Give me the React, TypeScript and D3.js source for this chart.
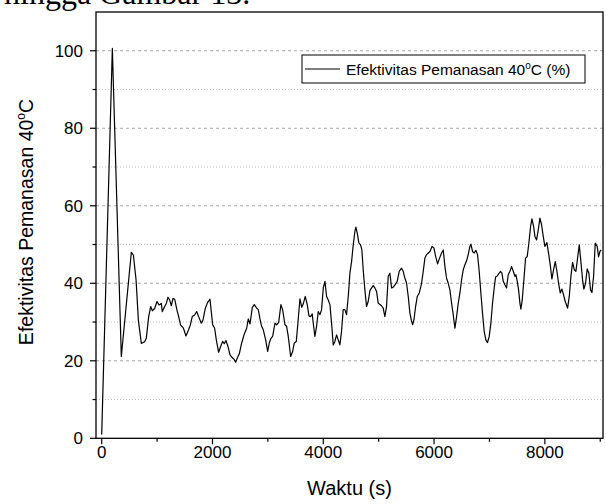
import React from "react";
import * as d3 from "d3";

const timeS = [0, 192, 354, 535, 572, 620, 662, 715, 775, 805, 848, 884, 914, 956, 998, 1034, 1076, 1094, 1136, 1166, 1197, 1227, 1257, 1287, 1317, 1359, 1389, 1425, 1467, 1485, 1521, 1569, 1599, 1635, 1677, 1714, 1750, 1798, 1828, 1870, 1910, 1955, 2003, 2039, 2069, 2111, 2147, 2183, 2213, 2243, 2280, 2316, 2352, 2388, 2418, 2448, 2484, 2527, 2569, 2617, 2647, 2677, 2719, 2755, 2797, 2827, 2857, 2887, 2917, 2960, 2996, 3026, 3056, 3086, 3128, 3158, 3194, 3236, 3266, 3308, 3338, 3368, 3411, 3447, 3477, 3513, 3537, 3579, 3612, 3639, 3675, 3711, 3741, 3771, 3801, 3819, 3849, 3879, 3909, 3940, 3970, 4000, 4030, 4060, 4090, 4120, 4150, 4180, 4210, 4240, 4270, 4300, 4330, 4360, 4390, 4420, 4451, 4481, 4511, 4541, 4571, 4589, 4613, 4643, 4673, 4697, 4721, 4751, 4781, 4811, 4842, 4872, 4902, 4932, 4962, 4992, 5022, 5052, 5082, 5112, 5142, 5173, 5203, 5233, 5263, 5293, 5335, 5371, 5413, 5443, 5470, 5504, 5534, 5564, 5594, 5613, 5637, 5667, 5697, 5733, 5775, 5805, 5835, 5865, 5896, 5926, 5962, 5998, 6028, 6064, 6094, 6136, 6166, 6196, 6226, 6256, 6286, 6316, 6346, 6377, 6407, 6437, 6467, 6497, 6527, 6557, 6587, 6617, 6647, 6665, 6695, 6725, 6755, 6785, 6815, 6845, 6875, 6905, 6935, 6965, 6996, 7026, 7056, 7086, 7110, 7140, 7170, 7200, 7225, 7249, 7279, 7309, 7339, 7370, 7400, 7430, 7460, 7478, 7502, 7526, 7550, 7568, 7592, 7622, 7652, 7682, 7712, 7743, 7767, 7797, 7821, 7851, 7881, 7911, 7941, 7971, 8001, 8037, 8067, 8097, 8127, 8158, 8188, 8218, 8248, 8278, 8308, 8338, 8368, 8411, 8441, 8471, 8501, 8531, 8561, 8591, 8621, 8651, 8681, 8705, 8735, 8765, 8795, 8825, 8850, 8880, 8910, 8946, 8970, 8994, 9018];

const efektivitas = [1.0, 100.6, 21.1, 48.0, 47.3, 40.9, 30.5, 24.5, 24.9, 25.8, 31.4, 34.0, 32.9, 33.5, 35.3, 34.4, 34.8, 32.7, 34.0, 34.8, 36.4, 35.7, 34.2, 36.1, 35.9, 33.1, 31.4, 29.2, 28.6, 28.0, 26.4, 28.0, 29.2, 31.4, 31.8, 32.7, 31.4, 29.7, 30.5, 33.5, 35.0, 35.9, 29.3, 28.4, 25.4, 22.2, 23.7, 25.0, 24.4, 25.2, 23.7, 21.5, 20.9, 20.4, 19.6, 20.7, 21.8, 24.6, 26.7, 28.4, 30.8, 29.5, 33.8, 34.5, 33.6, 33.2, 30.8, 28.9, 28.0, 25.4, 22.4, 24.6, 25.8, 26.3, 29.7, 29.3, 29.9, 34.5, 33.2, 29.3, 28.9, 26.3, 21.1, 22.4, 24.6, 25.0, 28.9, 36.0, 33.8, 34.7, 36.6, 34.5, 31.6, 31.4, 32.1, 29.7, 26.3, 28.9, 32.7, 31.9, 33.2, 38.8, 40.5, 36.6, 35.7, 34.5, 29.7, 24.1, 25.0, 26.7, 25.4, 24.1, 27.6, 33.2, 33.2, 31.9, 36.6, 42.6, 45.6, 49.9, 53.4, 54.5, 53.0, 50.4, 49.9, 48.6, 43.5, 38.3, 34.0, 35.3, 38.1, 38.8, 39.4, 38.8, 37.9, 34.9, 34.5, 34.2, 33.6, 31.4, 34.0, 41.8, 42.6, 38.8, 39.0, 39.6, 40.5, 43.1, 43.9, 43.1, 41.5, 40.0, 36.6, 32.3, 30.2, 29.3, 30.6, 34.0, 36.6, 37.5, 40.0, 43.1, 46.5, 47.4, 47.8, 48.2, 49.5, 49.1, 47.0, 45.0, 46.3, 47.8, 48.6, 44.3, 41.3, 40.0, 38.3, 34.9, 31.9, 28.4, 31.4, 34.9, 37.5, 40.9, 43.5, 44.8, 45.8, 47.4, 49.5, 50.1, 48.2, 47.8, 48.5, 47.4, 43.1, 37.5, 32.3, 27.6, 25.4, 24.7, 26.3, 29.7, 34.9, 38.8, 41.6, 41.9, 42.5, 43.1, 42.6, 40.5, 39.6, 38.8, 42.2, 43.1, 44.3, 43.1, 41.8, 42.2, 40.5, 38.3, 34.9, 33.3, 35.7, 40.9, 46.5, 46.9, 50.4, 54.7, 56.6, 54.7, 52.1, 51.2, 53.8, 56.8, 55.1, 52.1, 49.5, 50.5, 47.8, 44.8, 41.1, 43.5, 45.6, 43.1, 40.0, 37.5, 38.5, 37.0, 35.3, 33.6, 36.6, 41.8, 45.4, 43.5, 43.1, 46.5, 49.9, 45.6, 40.9, 38.5, 40.0, 43.7, 42.6, 38.3, 37.6, 41.8, 50.4, 49.5, 46.8, 48.2, 48.6];

const xMajorTicks = [0, 2000, 4000, 6000, 8000];
const xMinorTicks = [1000, 3000, 5000, 7000, 9000];
const yMajorTicks = [0, 20, 40, 60, 80, 100];
const yMinorTicks = [10, 30, 50, 70, 90];

const legendLabel = "Efektivitas Pemanasan 40";
const yLabel = "Efektivitas Pemanasan 40";
const xLabel = "Waktu (s)";
const topText = "hingga Gambar 13.";

export default function App() {
  const W = 606, H = 504;
  const left = 96, right = 603, top = 12, bottom = 438.3;
  const x = d3.scaleLinear().domain([-103, 9050]).range([left, right]);
  const y = d3.scaleLinear().domain([0, 110]).range([bottom, top]);
  const data = timeS.map((t, i) => [t, efektivitas[i]] as [number, number]);
  const line = d3.line<[number, number]>().x(d => x(d[0])).y(d => y(d[1]));
  const font = "Arial, 'Liberation Sans', sans-serif";

  return (
    <svg width={W} height={H} style={{ position: "absolute", left: 0, top: 0, background: "#fff" }}>
      <rect x={0} y={0} width={W} height={H} fill="#fff" />
      <text x={4} y={4} fontFamily="'Liberation Serif', 'Times New Roman', serif" fontSize={32} fill="#000">{topText}</text>
      {/* grid */}
      {yMajorTicks.filter(v => v > 0).map(v => (
        <line key={"gM" + v} x1={left} x2={right} y1={y(v)} y2={y(v)} stroke="#a8a8a8" strokeWidth={1} strokeDasharray="3,3" />
      ))}
      {yMinorTicks.map(v => (
        <line key={"gm" + v} x1={left} x2={right} y1={y(v)} y2={y(v)} stroke="#c4c4c4" strokeWidth={1} strokeDasharray="1,2" />
      ))}
      {/* data line */}
      <path d={line(data) || ""} fill="none" stroke="#000" strokeWidth={1.2} strokeLinejoin="round" />
      {/* frame */}
      <rect x={left} y={top} width={right - left} height={bottom - top} fill="none" stroke="#000" strokeWidth={1.3} />
      {/* y ticks */}
      {yMajorTicks.map(v => (
        <g key={"yt" + v}>
          <line x1={left - 6} x2={left} y1={y(v)} y2={y(v)} stroke="#000" strokeWidth={1.2} />
          <text x={left - 13} y={y(v) + 6} textAnchor="end" fontFamily={font} fontSize={17} fill="#000">{v}</text>
        </g>
      ))}
      {yMinorTicks.map(v => (
        <line key={"ym" + v} x1={left - 3.5} x2={left} y1={y(v)} y2={y(v)} stroke="#000" strokeWidth={1.2} />
      ))}
      {/* x ticks */}
      {xMajorTicks.map(v => (
        <g key={"xt" + v}>
          <line x1={x(v)} x2={x(v)} y1={bottom} y2={bottom + 6} stroke="#000" strokeWidth={1.2} />
          <text x={x(v)} y={bottom + 20} textAnchor="middle" fontFamily={font} fontSize={17} fill="#000">{v}</text>
        </g>
      ))}
      {xMinorTicks.map(v => (
        <line key={"xm" + v} x1={x(v)} x2={x(v)} y1={bottom} y2={bottom + 3.5} stroke="#000" strokeWidth={1.2} />
      ))}
      {/* axis titles */}
      <text x={(left + right) / 2} y={495} textAnchor="middle" fontFamily={font} fontSize={20} fill="#000">{xLabel}</text>
      <text transform={`translate(33, 222) rotate(-90)`} textAnchor="middle" fontFamily={font} fontSize={19.5} fill="#000">
        {yLabel}<tspan dy={-8} fontSize={12}>o</tspan><tspan dy={8}>C</tspan>
      </text>
      {/* legend */}
      <rect x={302} y={55} width={283} height={28} fill="#fff" stroke="#000" strokeWidth={1} />
      <line x1={305} x2={340} y1={69} y2={69} stroke="#000" strokeWidth={1.2} />
      <text x={346} y={75} fontFamily={font} fontSize={15.5} fill="#000">
        {legendLabel}<tspan dy={-6} fontSize={10}>o</tspan><tspan dy={6}>C (%)</tspan>
      </text>
    </svg>
  );
}
